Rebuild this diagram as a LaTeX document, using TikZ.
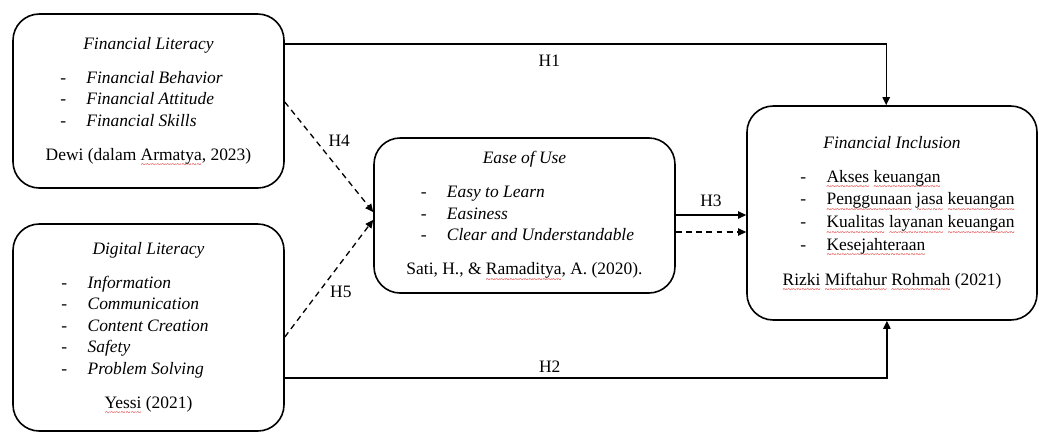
\documentclass[tikz,border=0pt]{standalone}
\usepackage{fontspec}
\setmainfont{Liberation Serif}
\usetikzlibrary{arrows.meta}
\usetikzlibrary{positioning}

\newcommand{\spellwave}[1]{\setbox0\hbox{#1}\rlap{\color{red!85!black}\raisebox{-5.2pt}{\hbox to \wd0{\xleaders\hbox{\fontsize{6}{6}\selectfont\char"7E}\hfil}}}\box0\relax}
\newcommand{\varlist}[3]{\begin{tabular}{@{\hspace{#1}}l@{\hspace{14pt}}l@{\hspace{#3}}}#2\end{tabular}}
\newcommand{\factortext}[5]{\begin{tabular}{@{}c@{}}\textit{#1}\\\noalign{\vskip 8.6pt}\varlist{#2}{#3}{#4}\\\noalign{\vskip 8.6pt}#5\end{tabular}}

\begin{document}
\begin{tikzpicture}[x=0.6875pt, y=-0.6875pt,
    font=\fontsize{12}{14.8}\selectfont,
    factor/.style={draw, line width=1.1pt, rounded corners=18pt, inner sep=0pt},
    hyp/.style={line width=0.9pt, -{Triangle[length=5.5pt, width=5pt]}},
    hypdash/.style={hyp, dash pattern=on 4pt off 3pt}]
    \useasboundingbox (0,0) rectangle (1039,433);

    % variables
    \node[factor, minimum width=186.3pt, minimum height=119.6pt] (finlit) at (148.5,101)
        {\factortext{Financial Literacy}{0pt}{-&\textit{Financial Behavior}\\ -&\textit{Financial Attitude}\\ -&\textit{Financial Skills}}{9.6pt}{Dewi (dalam \spellwave{Armatya}, 2023)}}; %% X1
    \node[factor, minimum width=186.3pt, minimum height=142.3pt] (diglit) at (148.5,327.5)
        {\factortext{Digital Literacy}{0pt}{-&\textit{Information}\\ -&\textit{Communication}\\ -&\textit{Content Creation}\\ -&\textit{Safety}\\ -&\textit{Problem Solving}}{18.5pt}{\spellwave{Yessi} (2021)}}; %% X2
    \node[factor, minimum width=206.9pt, minimum height=106.6pt] (ease) at (524.5,215.5)
        {\factortext{Ease of Use}{4pt}{-&\textit{Easy to Learn}\\ -&\textit{Easiness}\\ -&\textit{Clear and Understandable}}{0pt}{Sati, H., \& \spellwave{Ramaditya}, A. (2020).}}; %% Z
    \node[factor, minimum width=199.4pt, minimum height=147.1pt] (incl) at (892,213)
        {\factortext{Financial Inclusion}{21.3pt}{-&\spellwave{Akses} \spellwave{keuangan}\\ -&\spellwave{Penggunaan} \spellwave{jasa} \spellwave{keuangan}\\ -&\spellwave{Kualitas} \spellwave{layanan} \spellwave{keuangan}\\ -&\spellwave{Kesejahteraan}}{0pt}{\spellwave{Rizki} \spellwave{Miftahur} \spellwave{Rohmah} (2021)}}; %% Y

    % hypotheses
    \draw[hyp] (finlit.east |- 0,44) -| ([xshift=-4pt]incl.north) node[pos=0.22, below=4pt] {H1}; %% direct X1
    \draw[hyp] (diglit.east |- 0,378) -| ([xshift=-3.5pt]incl.south) node[pos=0.22, above] {H2}; %% direct X2
    \draw[hyp] (ease.east |- 0,215) -- (incl.west |- 0,215) node[midway, above=2pt] {H3}; %% Z to Y
    \draw[hypdash] (ease.east |- 0,232) -- (incl.west |- 0,232); %% mediated
    \draw[hypdash] (finlit.east |- 0,102) -- ([yshift=2.4pt]ease.west) node[pos=0.35, right=5pt] {H4}; %% X1 to Z
    \draw[hypdash] (diglit.east |- 0,337) -- ([yshift=-3pt]ease.west) node[pos=0.385, right=4pt] {H5}; %% X2 to Z
\end{tikzpicture}
\end{document}
